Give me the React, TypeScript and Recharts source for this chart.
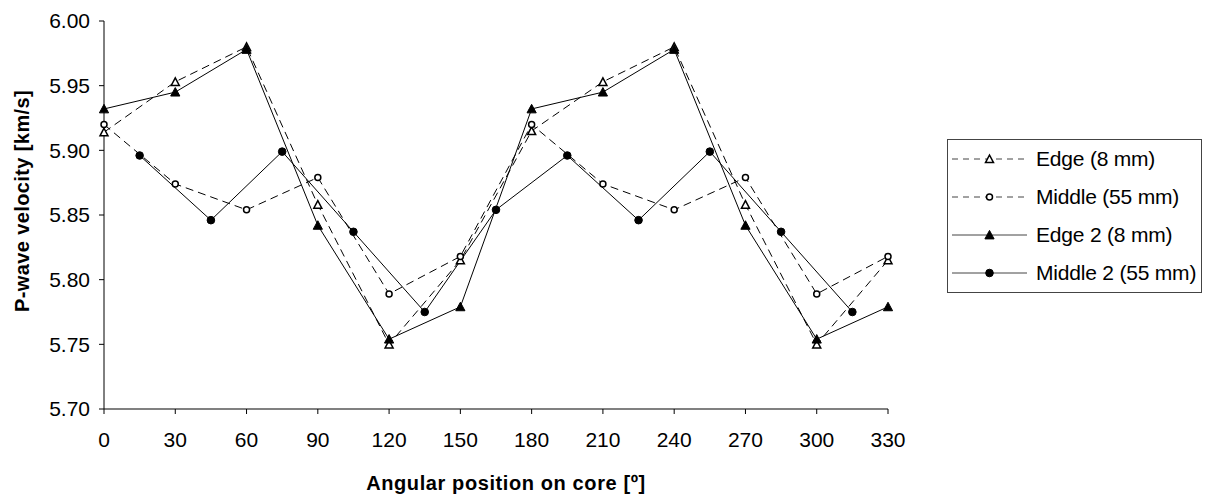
import { Label, Legend, Line, LineChart, XAxis, YAxis } from 'recharts'

const angles = [0, 30, 60, 90, 120, 150, 180, 210, 240, 270, 300, 330]
const middle2Angles = [15, 45, 75, 105, 135, 165, 195, 225, 255, 285, 315]

const edge = [5.914, 5.953, 5.98, 5.858, 5.75, 5.815, 5.915, 5.953, 5.98, 5.858, 5.75, 5.815]
const middle = [5.92, 5.874, 5.854, 5.879, 5.789, 5.818, 5.92, 5.874, 5.854, 5.879, 5.789, 5.818]
const edge2 = [5.932, 5.945, 5.978, 5.842, 5.754, 5.779, 5.932, 5.945, 5.978, 5.842, 5.754, 5.779]
const middle2 = [5.896, 5.846, 5.899, 5.837, 5.775, 5.854, 5.896, 5.846, 5.899, 5.837, 5.775]

const xTicks = [0, 30, 60, 90, 120, 150, 180, 210, 240, 270, 300, 330]
const yTicks = [5.7, 5.75, 5.8, 5.85, 5.9, 5.95, 6.0]

const FONT = '"Liberation Sans", Arial, sans-serif'

const edgeData = angles.map((a, i) => ({ angle: a, v: edge[i] }))
const middleData = angles.map((a, i) => ({ angle: a, v: middle[i] }))
const edge2Data = angles.map((a, i) => ({ angle: a, v: edge2[i] }))
const middle2Data = middle2Angles.map((a, i) => ({ angle: a, v: middle2[i] }))

type Marker = 'triOpen' | 'circOpen' | 'tri' | 'circ'

function markerShape(kind: Marker, cx: number, cy: number, key?: string) {
  if (kind === 'triOpen') {
    const s = 4
    return (
      <path key={key} d={`M${cx},${cy - s} L${cx + s},${cy + s * 0.9} L${cx - s},${cy + s * 0.9} Z`}
        fill="#fff" stroke="#000" strokeWidth={1.5} />
    )
  }
  if (kind === 'tri') {
    const s = 4.6
    return (
      <path key={key} d={`M${cx},${cy - s} L${cx + s},${cy + s * 0.85} L${cx - s},${cy + s * 0.85} Z`}
        fill="#000" stroke="#000" strokeWidth={1} />
    )
  }
  if (kind === 'circOpen') {
    return <circle key={key} cx={cx} cy={cy} r={3} fill="#fff" stroke="#000" strokeWidth={1.5} />
  }
  return <circle key={key} cx={cx} cy={cy} r={3.8} fill="#000" stroke="#000" />
}

const dotFor = (kind: Marker) => (p: any) => {
  if (p.cx == null || p.cy == null) return <g key={`e-${p.index}`} />
  return markerShape(kind, p.cx, p.cy, `${kind}-${p.index}`)
}

const legendItems: { name: string; kind: Marker; dashed: boolean }[] = [
  { name: 'Edge (8 mm)', kind: 'triOpen', dashed: true },
  { name: 'Middle (55 mm)', kind: 'circOpen', dashed: true },
  { name: 'Edge 2 (8 mm)', kind: 'tri', dashed: false },
  { name: 'Middle 2 (55 mm)', kind: 'circ', dashed: false },
]

function LegendBox() {
  return (
    <div
      style={{
        width: 253,
        height: 152,
        border: '1px solid #444',
        background: '#fff',
        fontFamily: FONT,
        fontSize: 21,
        color: '#000',
      }}
    >
      {legendItems.map((it) => (
        <div key={it.name} style={{ height: 38, display: 'flex', alignItems: 'center' }}>
          <svg width={84} height={20} style={{ marginLeft: 4, flex: 'none' }}>
            <line x1={0} x2={75} y1={10} y2={10} stroke="#444" strokeWidth={1}
              strokeDasharray={it.dashed ? '6 5' : undefined} />
            {markerShape(it.kind, 37.5, 10)}
          </svg>
          <span style={{ letterSpacing: -0.2 }}>{it.name}</span>
        </div>
      ))}
    </div>
  )
}

export default function App() {
  return (
    <div style={{ position: 'absolute', left: 0, top: 0, background: '#fff' }}>
      <LineChart width={1207} height={497} margin={{ top: 21, right: 319, bottom: 0, left: 0 }}>
        <XAxis
          type="number"
          dataKey="angle"
          domain={[0, 330]}
          ticks={xTicks}
          allowDuplicatedCategory={false}
          height={88}
          axisLine={{ stroke: '#808080', strokeWidth: 2 }}
          tickLine={{ stroke: '#000' }}
          tickSize={5}
          tickMargin={18}
          tick={{ fontSize: 21, fill: '#000', fontFamily: FONT }}
        >
          <Label
            content={({ viewBox }: any) => (
              <text
                x={viewBox.x + viewBox.width / 2 + 10}
                y={viewBox.y + 81}
                textAnchor="middle"
                fontFamily={FONT}
                fontWeight="bold"
                fontSize={20}
                letterSpacing={0.6}
                fill="#000"
              >
                Angular position on core [º]
              </text>
            )}
          />
        </XAxis>
        <YAxis
          type="number"
          domain={[5.7, 6.0]}
          ticks={yTicks}
          width={104}
          axisLine={{ stroke: '#000' }}
          tickLine={{ stroke: '#000' }}
          tickSize={5}
          tickMargin={9}
          tickFormatter={(v: number) => v.toFixed(2)}
          tick={{ fontSize: 21, fill: '#000', fontFamily: FONT }}
        >
          <Label
            content={({ viewBox }: any) => {
              const cx = 22
              const cy = viewBox.y + viewBox.height / 2 - 14
              return (
                <text
                  x={cx}
                  y={cy}
                  transform={`rotate(-90 ${cx} ${cy})`}
                  textAnchor="middle"
                  dominantBaseline="central"
                  fontFamily={FONT}
                  fontWeight="bold"
                  fontSize={20}
                  letterSpacing={0.4}
                  fill="#000"
                >
                  P-wave velocity [km/s]
                </text>
              )
            }}
          />
        </YAxis>
        <Legend
          layout="horizontal"
          align="center"
          verticalAlign="middle"
          wrapperStyle={{ left: 947, top: 139, width: 255 }}
          content={() => <LegendBox />}
        />
        <Line data={edgeData} dataKey="v" name="Edge (8 mm)" stroke="#000" strokeWidth={1}
          strokeDasharray="8 5" dot={dotFor('triOpen')} activeDot={false} isAnimationActive={false} />
        <Line data={middleData} dataKey="v" name="Middle (55 mm)" stroke="#000" strokeWidth={1}
          strokeDasharray="8 5" dot={dotFor('circOpen')} activeDot={false} isAnimationActive={false} />
        <Line data={edge2Data} dataKey="v" name="Edge 2 (8 mm)" stroke="#000" strokeWidth={1}
          dot={dotFor('tri')} activeDot={false} isAnimationActive={false} />
        <Line data={middle2Data} dataKey="v" name="Middle 2 (55 mm)" stroke="#000" strokeWidth={1}
          dot={dotFor('circ')} activeDot={false} isAnimationActive={false} />
      </LineChart>
    </div>
  )
}
